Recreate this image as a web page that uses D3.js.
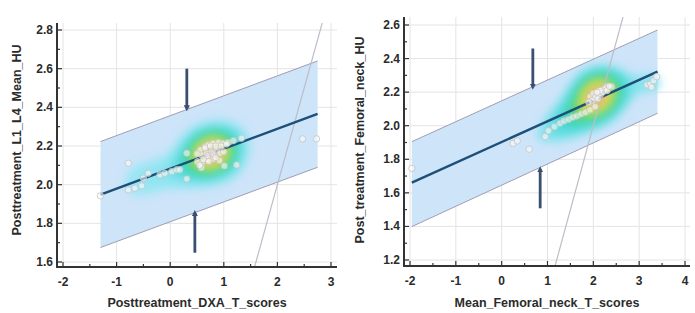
<!DOCTYPE html>
<html>
<head>
<meta charset="utf-8">
<script src="https://cdn.jsdelivr.net/npm/d3@7"></script>
<style>
body{margin:0;background:#fff;}
text{font-family:"Liberation Sans",Arial,sans-serif;}
</style>
</head>
<body>
<script>
// left panel data
var leftPoints = [[-1.30,1.942],[-0.78,2.111],[-0.78,1.973],[-0.66,1.982],[-0.53,1.994],[-0.50,2.034],
	[-0.41,2.059],[-0.19,2.051],[-0.10,2.059],[0.03,2.068],[0.12,2.077],[0.18,2.077],[0.31,2.163],
	[0.31,2.030],[0.51,2.119],[0.59,2.111],[0.58,2.088],[0.69,2.128],[0.80,2.132],[0.92,2.125],
	[1.01,2.097],[1.24,2.102],[0.56,2.180],[0.65,2.197],[0.71,2.206],[0.80,2.214],[0.90,2.218],
	[0.99,2.214],[1.08,2.218],[1.18,2.228],[1.33,2.240],[0.59,2.154],[0.68,2.163],[0.77,2.171],
	[0.87,2.180],[0.93,2.163],[0.65,2.19],[0.75,2.20],[0.85,2.20],[0.95,2.20],[0.70,2.15],
	[0.80,2.16],[0.62,2.13],[0.72,2.12],[0.85,2.14],[0.50,2.16],[0.55,2.10],[1.05,2.21],
	[1.00,2.17],[2.47,2.237],[2.73,2.237]];
var leftFit = [[-1.3,1.949],[2.75,2.366]];
var leftUpper = [[-1.3,2.223],[2.75,2.640]];
var leftLower = [[-1.3,1.675],[2.75,2.090]];
var leftArrows = [[0.31,2.60,2.395],[0.46,1.648,1.853]];
var leftXTicks = [-2,-1,0,1,2,3];
var leftYTicks = [1.6,1.8,2.0,2.2,2.4,2.6,2.8];

// right panel data
var rightPoints = [[-1.96,1.746],[0.25,1.895],[0.34,1.909],[0.60,1.860],[0.95,1.935],[1.02,1.970],
	[1.15,1.994],[1.27,2.014],[1.36,2.028],[1.46,2.038],[1.55,2.050],[1.64,2.058],[1.73,2.070],
	[1.83,2.080],[1.93,2.094],[2.04,2.113],[1.93,2.173],[2.00,2.193],[2.10,2.203],[2.18,2.213],
	[2.29,2.233],[2.40,2.233],[2.15,2.183],[2.04,2.163],[2.05,2.17],[2.12,2.19],[2.20,2.20],
	[2.25,2.22],[1.98,2.15],[2.10,2.16],[2.30,2.21],[2.15,2.21],[1.90,2.14],[2.35,2.235],
	[2.08,2.20],[3.17,2.243],[3.25,2.249],[3.32,2.268],[3.38,2.292],[3.27,2.229]];
var rightFit = [[-1.96,1.661],[3.40,2.322]];
var rightUpper = [[-1.96,1.905],[3.40,2.570]];
var rightLower = [[-1.96,1.399],[3.40,2.074]];
var rightArrows = [[0.68,2.46,2.233],[0.84,1.508,1.74]];
var rightXTicks = [-2,-1,0,1,2,3,4];
var rightYTicks = [1.2,1.4,1.6,1.8,2.0,2.2,2.4,2.6];

var svg = d3.select("body").append("svg")
	.attr("width",695)
	.attr("height",313);

var defs = svg.append("defs");
defs.append("filter").attr("id","blur")
	.attr("x","-30%").attr("y","-30%").attr("width","160%").attr("height","160%")
	.append("feGaussianBlur").attr("stdDeviation",4);
defs.append("marker").attr("id","head")
	.attr("viewBox","0 0 10 10").attr("refX",5).attr("refY",5)
	.attr("markerWidth",2.2).attr("markerHeight",2.2).attr("orient","auto")
	.append("path").attr("d","M0,0L10,5L0,10Z").attr("fill","#3a4f72");

var heatColor = d3.scaleLinear()
	.domain([0.18,0.38,0.62,0.8,0.94])
	.range(["#9ce6f4","#3cd8d6","#63d653","#e2e35c","#f0a56c"])
	.clamp(true);

function drawPanel(o){
	var x = d3.scaleLinear().domain(o.xDom).range(o.xRange);
	var y = d3.scaleLinear().domain(o.yDom).range(o.yRange);
	var g = svg.append("g");
	var id = "clip"+o.name;
	defs.append("clipPath").attr("id",id)
		.append("rect").attr("x",o.left).attr("y",o.top)
		.attr("width",o.right-o.left).attr("height",o.bottom-o.top);

	// grid
	g.selectAll("line.gx").data(o.xTicks).enter().append("line")
		.attr("x1",function(d){return x(d);}).attr("x2",function(d){return x(d);})
		.attr("y1",o.top).attr("y2",o.bottom)
		.attr("stroke","#e4e4e4");
	g.selectAll("line.gy").data(o.yTicks).enter().append("line")
		.attr("y1",function(d){return y(d);}).attr("y2",function(d){return y(d);})
		.attr("x1",o.left).attr("x2",o.right)
		.attr("stroke","#e4e4e4");

	var plot = g.append("g").attr("clip-path","url(#"+id+")");

	// prediction band
	var band = o.upper.concat(o.lower.slice().reverse());
	plot.append("path")
		.attr("d",d3.line().x(function(d){return x(d[0]);}).y(function(d){return y(d[1]);})(band)+"Z")
		.attr("fill","#cde4f9");
	[o.upper,o.lower].forEach(function(l){
		plot.append("path")
			.attr("d",d3.line().x(function(d){return x(d[0]);}).y(function(d){return y(d[1]);})(l))
			.attr("stroke","#a09cb4").attr("stroke-width",1).attr("fill","none");
	});

	// density
	var dens = d3.contourDensity()
		.x(function(d){return x(d[0]);}).y(function(d){return y(d[1]);})
		.size([695,313]).bandwidth(o.bw).thresholds(30)(o.points);
	var maxV = d3.max(dens,function(d){return d.value;});
	plot.append("g").attr("filter","url(#blur)")
		.selectAll("path").data(dens.filter(function(d){return d.value/maxV>o.cut;}))
		.enter().append("path")
		.attr("d",d3.geoPath())
		.attr("fill",function(d){return heatColor(d.value/maxV);});

	// identity line
	plot.append("line")
		.attr("x1",x(o.xDom[0]-1)).attr("y1",y(o.xDom[0]-1))
		.attr("x2",x(o.xDom[1]+1)).attr("y2",y(o.xDom[1]+1))
		.attr("stroke","#bdbdc8").attr("stroke-width",1.2);

	// regression line
	plot.append("path")
		.attr("d",d3.line().x(function(d){return x(d[0]);}).y(function(d){return y(d[1]);})(o.fit))
		.attr("stroke","#1d4f78").attr("stroke-width",2.4).attr("fill","none");

	// points
	plot.selectAll("circle").data(o.points).enter().append("circle")
		.attr("cx",function(d){return x(d[0]);})
		.attr("cy",function(d){return y(d[1]);})
		.attr("r",3.2)
		.attr("fill","#ffffff").attr("fill-opacity",0.55)
		.attr("stroke","#c4c4c4").attr("stroke-width",0.8);

	// arrows
	g.selectAll("line.arr").data(o.arrows).enter().append("line")
		.attr("x1",function(d){return x(d[0]);}).attr("x2",function(d){return x(d[0]);})
		.attr("y1",function(d){return y(d[1]);}).attr("y2",function(d){return y(d[2]);})
		.attr("stroke","#3a4f72").attr("stroke-width",2.8)
		.attr("marker-end","url(#head)");

	// axes
	g.append("line").attr("x1",o.left).attr("x2",o.left).attr("y1",o.top).attr("y2",o.bottom+1)
		.attr("stroke","#333").attr("stroke-width",2);
	g.append("line").attr("x1",o.left-1).attr("x2",o.right).attr("y1",o.bottom).attr("y2",o.bottom)
		.attr("stroke","#333").attr("stroke-width",2);

	var xMinor = d3.range(o.xDom[0],o.xDom[1]+0.01,0.5);
	g.selectAll("line.tx").data(xMinor).enter().append("line")
		.attr("x1",function(d){return x(d);}).attr("x2",function(d){return x(d);})
		.attr("y1",o.bottom).attr("y2",function(d){return o.bottom-(d%1===0?5:3);})
		.attr("stroke","#333").attr("stroke-width",1.2);
	var yMinor = d3.range(0,(o.yDom[1]-o.yDom[0])/0.1+0.5).map(function(i){return o.yDom[0]+i*0.1;});
	g.selectAll("line.ty").data(yMinor).enter().append("line")
		.attr("y1",function(d){return y(d);}).attr("y2",function(d){return y(d);})
		.attr("x1",o.left).attr("x2",function(d,i){return o.left+(i%2===0?5:3);})
		.attr("stroke","#333").attr("stroke-width",1.2);

	g.selectAll("text.xl").data(o.xTicks).enter().append("text")
		.attr("x",function(d){return x(d);}).attr("y",o.bottom+19)
		.attr("text-anchor","middle")
		.style("font-size","12px").style("font-weight","bold").attr("fill","#2b2b2b")
		.text(function(d){return d;});
	g.selectAll("text.yl").data(o.yTicks).enter().append("text")
		.attr("x",o.left-4).attr("y",function(d){return y(d)+4;})
		.attr("text-anchor","end")
		.style("font-size","12px").style("font-weight","bold").attr("fill","#2b2b2b")
		.text(function(d){return d3.format(".1f")(d);});

	g.append("text").attr("x",(o.left+o.right)/2).attr("y",307)
		.attr("text-anchor","middle")
		.style("font-size","12.5px").style("font-weight","bold").attr("fill","#2b2b2b")
		.text(o.xTitle);
	g.append("text")
		.attr("transform","translate("+o.yTitleX+","+o.yTitleY+")rotate(-90)")
		.attr("text-anchor","middle")
		.style("font-size","12.5px").style("font-weight","bold").attr("fill","#2b2b2b")
		.text(o.yTitle);
}

drawPanel({
	name:"L", points:leftPoints, fit:leftFit, upper:leftUpper, lower:leftLower, arrows:leftArrows,
	xTicks:leftXTicks, yTicks:leftYTicks, xDom:[-2,3], yDom:[1.6,2.8],
	xRange:[63,331], yRange:[262,30], left:57, right:337, top:23, bottom:267, bw:13, cut:0.14,
	xTitle:"Posttreatment_DXA_T_scores", yTitle:"Posttreatment_L1_L4_Mean_HU",
	yTitleX:21, yTitleY:140
});
drawPanel({
	name:"R", points:rightPoints, fit:rightFit, upper:rightUpper, lower:rightLower, arrows:rightArrows,
	xTicks:rightXTicks, yTicks:rightYTicks, xDom:[-2,4], yDom:[1.2,2.6],
	xRange:[410,685], yRange:[260,25], left:404, right:690, top:17, bottom:266, bw:14, cut:0.2,
	xTitle:"Mean_Femoral_neck_T_scores", yTitle:"Post_treatment_Femoral_neck_HU",
	yTitleX:364, yTitleY:140
});
</script>
</body>
</html>
